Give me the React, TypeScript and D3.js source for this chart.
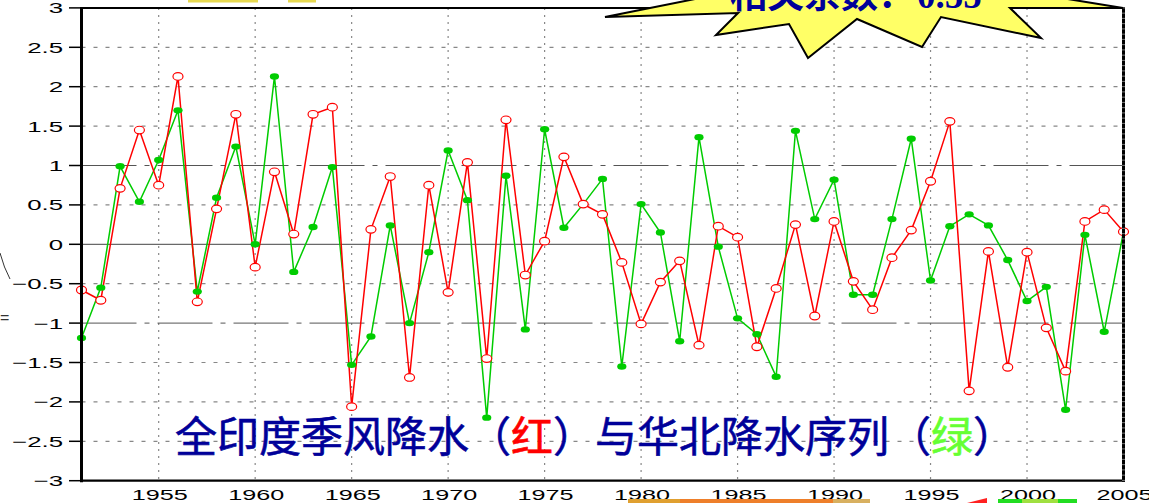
import React from 'react';
import * as d3 from 'd3';

const years = [
  1951, 1952, 1953, 1954, 1955, 1956, 1957, 1958, 1959, 1960,
  1961, 1962, 1963, 1964, 1965, 1966, 1967, 1968, 1969, 1970,
  1971, 1972, 1973, 1974, 1975, 1976, 1977, 1978, 1979, 1980,
  1981, 1982, 1983, 1984, 1985, 1986, 1987, 1988, 1989, 1990,
  1991, 1992, 1993, 1994, 1995, 1996, 1997, 1998, 1999, 2000,
  2001, 2002, 2003, 2004, 2005,
];

// All-India monsoon rainfall (red)
const indiaRain = [
  -0.58, -0.71, 0.71, 1.45, 0.75, 2.13, -0.73, 0.45, 1.65, -0.29,
  0.92, 0.13, 1.65, 1.74, -2.06, 0.19, 0.86, -1.69, 0.75, -0.61,
  1.04, -1.45, 1.58, -0.39, 0.04, 1.11, 0.51, 0.38, -0.23, -1.01,
  -0.48, -0.21, -1.28, 0.23, 0.09, -1.3, -0.56, 0.25, -0.91, 0.29,
  -0.47, -0.83, -0.17, 0.18, 0.8, 1.56, -1.86, -0.09, -1.56, -0.1,
  -1.06, -1.61, 0.29, 0.44, 0.16,
];

// North China rainfall (green)
const northChinaRain = [
  -1.19, -0.55, 0.99, 0.54, 1.07, 1.7, -0.6, 0.59, 1.24, 0.0,
  2.13, -0.35, 0.22, 0.98, -1.53, -1.17, 0.24, -1.0, -0.1, 1.19,
  0.56, -2.2, 0.87, -1.08, 1.46, 0.21, 0.51, 0.83, -1.55, 0.51,
  0.15, -1.23, 1.36, -0.03, -0.94, -1.14, -1.68, 1.44, 0.32, 0.82,
  -0.64, -0.64, 0.32, 1.34, -0.46, 0.23, 0.38, 0.24, -0.2, -0.72,
  -0.54, -2.1, 0.12, -1.11, 0.16,
];

const xTicks = [1955, 1960, 1965, 1970, 1975, 1980, 1985, 1990, 1995, 2000, 2005];
const yTicks = [3, 2.5, 2, 1.5, 1, 0.5, 0, -0.5, -1, -1.5, -2, -2.5, -3];

const titleParts = [
  { text: '全印度季风降水（', color: '#000099' },
  { text: '红', color: '#ff0000' },
  { text: '）与华北降水序列（', color: '#000099' },
  { text: '绿', color: '#66ff33' },
  { text: '）', color: '#000099' },
];
const corrLabel = '相关系数：';
const corrValue = '0.55';

export default function App() {
  const W = 1149;
  const H = 503;
  const x = d3.scaleLinear().domain([1951, 2005]).range([81.5, 1123.5]);
  const y = d3.scaleLinear().domain([-3, 3]).range([480.7, 7.9]);
  const [x0, x1] = x.range();
  const [yb, yt] = y.range();

  const mkLine = (vals: number[]) =>
    d3.line<number>().x((_, i) => x(years[i])).y((d) => y(d))(vals) || '';

  const fmt = (v: number) => (v < 0 ? '\u2212' + String(Math.abs(v)) : String(v));

  const burst = [
    [605, 17], [738, 13], [716, 35], [789, 24], [808, 58], [857, 19], [922, 47],
    [941, 17], [1041, 38], [1010, 8], [1123, 8], [1000, -12], [960, -60],
    [760, -60], [700, -2],
  ];
  const burstPath = d3.line()(burst as [number, number][]) + 'Z';

  const rightTicks = d3.range(yt, yb, 5.25);

  return (
    <svg width={W} height={H} style={{ position: 'absolute', left: 0, top: 0, background: '#fff' }}>
      <rect x={0} y={0} width={W} height={H} fill="#fff" />
      {/* remnants at the top-left */}
      <rect x={188} y={0} width={70} height={2.5} fill="#e6d850" />
      <rect x={288} y={0} width={28} height={2.5} fill="#e6d850" />
      <path d="M0,253 Q4,268 10,279" fill="none" stroke="#333" strokeWidth={1} />
      <text x={0} y={323} fontFamily="Liberation Sans, Arial" fontSize={16} fill="#333">=</text>

      {/* vertical grid */}
      {xTicks.filter((t) => t < 2005).map((t) => (
        <line key={'vx' + t} x1={x(t)} x2={x(t)} y1={yt} y2={yb} stroke="#888" strokeWidth={1.2} strokeDasharray="2,5" />
      ))}
      {/* horizontal grid */}
      {yTicks.filter((t) => Math.abs(t) < 3).map((t) => {
        if (t === 0)
          return <line key={'hy' + t} x1={x0} x2={x1} y1={y(t)} y2={y(t)} stroke="#444" strokeWidth={1} />;
        if (Math.abs(t) === 1)
          return <line key={'hy' + t} x1={x0} x2={x1} y1={y(t)} y2={y(t)} stroke="#555" strokeWidth={1} strokeDasharray="55,8,5,8" />;
        return <line key={'hy' + t} x1={x0} x2={x1} y1={y(t)} y2={y(t)} stroke="#888" strokeWidth={1.2} strokeDasharray="4,8" />;
      })}

      {/* title inside plot */}
      <text x={175} y={452} fontFamily="'Noto Sans CJK SC'" fontSize={42} stroke="#000099" strokeWidth={0}>
        {titleParts.map((p, i) => (
          <tspan key={i} fill={p.color} stroke={p.color} strokeWidth={0.6}>{p.text}</tspan>
        ))}
      </text>

      {/* series */}
      <path d={mkLine(northChinaRain)} fill="none" stroke="#00cc00" strokeWidth={1.5} />
      <path d={mkLine(indiaRain)} fill="none" stroke="#ff0000" strokeWidth={1.5} />
      {northChinaRain.map((v, i) => (
        <ellipse key={'g' + i} cx={x(years[i])} cy={y(v)} rx={4.6} ry={3.2} fill="#00cc00" />
      ))}
      {indiaRain.map((v, i) => (
        <ellipse key={'r' + i} cx={x(years[i])} cy={y(v)} rx={5} ry={3.8} fill="#fff" stroke="#ff0000" strokeWidth={1.2} />
      ))}

      {/* axes frame */}
      <line x1={x0} x2={x1} y1={yt} y2={yt} stroke="#000" strokeWidth={2} />
      <line x1={x0} x2={x0} y1={yt - 1} y2={yb + 1.5} stroke="#000" strokeWidth={3} />
      <line x1={x0 - 1.5} x2={x1 + 1.5} y1={yb} y2={yb} stroke="#000" strokeWidth={2.2} />
      <line x1={x1} x2={x1} y1={yt - 1} y2={yb + 1} stroke="#000" strokeWidth={3} />
      {rightTicks.map((t, i) => (
        <line key={'rt' + i} x1={x1 - 1.5} x2={x1 + 1.5} y1={t} y2={t} stroke="#999" strokeWidth={0.8} />
      ))}

      {/* y ticks and labels */}
      {yTicks.map((t) => (
        <g key={'yt' + t}>
          <line x1={69} x2={x0} y1={y(t)} y2={y(t)} stroke="#000" strokeWidth={1.5} />
          <text
            transform={`translate(63,${y(t) + 5.4}) scale(1.72,1)`}
            textAnchor="end"
            fontFamily="'Liberation Sans', Arial, sans-serif"
            fontSize={15}
            fill="#000"
          >
            {fmt(t)}
          </text>
        </g>
      ))}
      {/* x labels */}
      {xTicks.map((t) => (
        <text
          key={'xt' + t}
          transform={`translate(${x(t) + 1},500) scale(1.68,1)`}
          textAnchor="middle"
          fontFamily="'Liberation Sans', Arial, sans-serif"
          fontSize={15}
          fill="#000"
        >
          {t}
        </text>
      ))}

      {/* starburst callout */}
      <path d={burstPath} fill="#ffff66" stroke="#000" strokeWidth={2} strokeLinejoin="miter" />
      <text y={8} fontSize={37} fontWeight="bold" fill="#000099">
        <tspan x={730} fontFamily="'Noto Sans CJK SC'">{corrLabel}</tspan>
        <tspan x={917} fontFamily="'Liberation Serif', 'Times New Roman', serif">{corrValue}</tspan>
      </text>

      {/* bottom remnants */}
      <rect x={628} y={499} width={52} height={4} fill="#e0a030" />
      <rect x={680} y={499} width={153} height={4} fill="#ee7f2a" />
      <rect x={833} y={499} width={37} height={4} fill="#d8b060" />
      <path d="M967,503 L987,498 L987,503 Z" fill="#ff2020" />
      <rect x={998} y={499} width={79} height={4} fill="#22dd22" />
      <rect x={1022} y={499} width={36} height={4} fill="#a0e040" />
    </svg>
  );
}
